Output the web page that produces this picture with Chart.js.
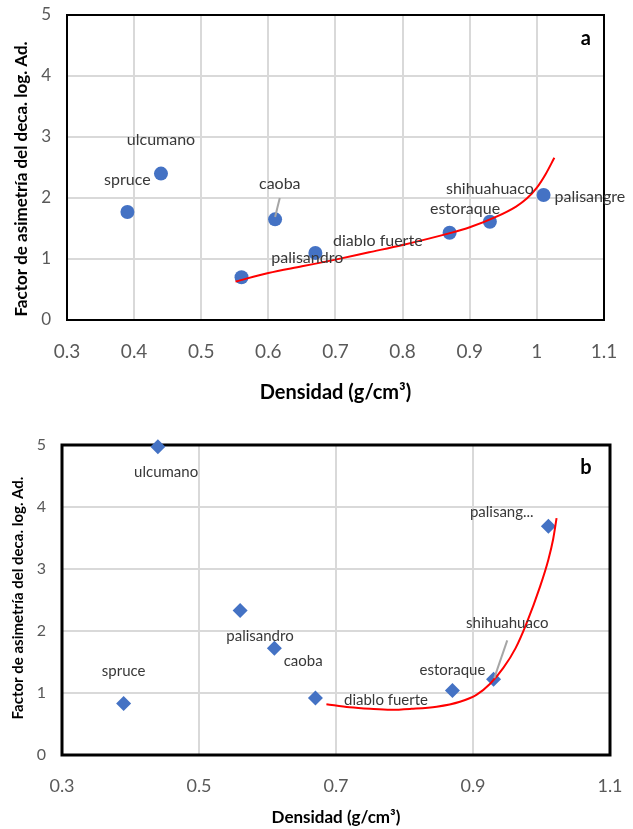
<!DOCTYPE html>
<html>
<head>
<meta charset="utf-8">
<script src="https://cdn.jsdelivr.net/npm/chart.js@4.4.1/dist/chart.umd.min.js"></script>
<style>
  body { margin: 0; background: #fff; }
  .panel { position: absolute; left: 0; width: 633px; }
</style>
</head>
<body>
<div class="panel" style="top:0px"><canvas id="graficaA" width="633" height="410"></canvas></div>
<div class="panel" style="top:410px"><canvas id="graficaB" width="633" height="419"></canvas></div>
<script>
// Datos
const especies = ['spruce', 'ulcumano', 'palisandro', 'caoba', 'diablo fuerte', 'estoraque', 'shihuahuaco', 'palisangre'];
const densidad = [0.39, 0.44, 0.56, 0.61, 0.67, 0.87, 0.93, 1.01];
const factorA = [1.77, 2.40, 0.70, 1.65, 1.10, 1.43, 1.61, 2.05];
const factorB = [0.83, 4.97, 2.33, 1.72, 0.92, 1.04, 1.22, 3.69];

// Linea de tendencia (roja) de cada panel
const curvaAx = [0.551, 0.60, 0.65, 0.70, 0.75, 0.80, 0.869, 0.90, 0.939, 0.969, 0.985, 1.0, 1.013, 1.026];
const curvaAy = [0.63, 0.77, 0.88, 0.99, 1.11, 1.23, 1.42, 1.52, 1.69, 1.86, 1.99, 2.17, 2.39, 2.66];
const curvaBx = [0.686, 0.72, 0.75, 0.78, 0.81, 0.847, 0.881, 0.905, 0.925, 0.944, 0.962, 0.978, 0.998, 1.010, 1.017, 1.022];
const curvaBy = [0.82, 0.77, 0.745, 0.73, 0.745, 0.78, 0.86, 0.97, 1.15, 1.40, 1.72, 2.12, 2.72, 3.15, 3.48, 3.82];

// Ticks
const ticksXA = [0.3, 0.4, 0.5, 0.6, 0.7, 0.8, 0.9, 1.0, 1.1];
const ticksXB = [0.3, 0.5, 0.7, 0.9, 1.1];
const ticksY = [0, 1, 2, 3, 4, 5];

// Posicion de las etiquetas (en unidades de los ejes)
const etiquetasA = [[0.39, 2.29], [0.44, 2.95], [0.658, 1.02], [0.617, 2.23], [0.763, 1.29], [0.893, 1.82], [0.93, 2.15], [1.079, 2.02]];
const etiquetasB = [[0.39, 1.36], [0.452, 4.57], [0.589, 1.92], [0.652, 1.52], [0.773, 0.89], [0.87, 1.37], [0.95, 2.13], [0.942, 3.92]];
const textosB = ['spruce', 'ulcumano', 'palisandro', 'caoba', 'diablo fuerte', 'estoraque', 'shihuahuaco', 'palisang...'];

const tituloY = 'Factor de asimetría del deca. log. Ad.';
const tituloX = 'Densidad (g/cm³)';

// Plugin: marco, etiquetas, lineas guia, letra del panel y titulo del eje Y
const etiquetasPlugin = {
  id: 'etiquetas',
  beforeDatasetsDraw(chart, args, o) {
    const a = chart.chartArea, ctx = chart.ctx;
    ctx.save();
    ctx.strokeStyle = '#000';
    ctx.lineWidth = o.marco;
    ctx.strokeRect(a.left, a.top, a.right - a.left, a.bottom - a.top);
    ctx.restore();
  },
  afterDatasetsDraw(chart, args, o) {
    const ctx = chart.ctx, sx = chart.scales.x, sy = chart.scales.y;
    ctx.save();
    // linea guia
    ctx.strokeStyle = '#a6a6a6';
    ctx.lineWidth = 2;
    ctx.beginPath();
    ctx.moveTo(sx.getPixelForValue(o.guia[0]), sy.getPixelForValue(o.guia[1]));
    ctx.lineTo(sx.getPixelForValue(o.guia[2]), sy.getPixelForValue(o.guia[3]));
    ctx.stroke();
    // etiquetas
    ctx.fillStyle = '#383838';
    ctx.font = o.fuente;
    ctx.textAlign = 'center';
    ctx.textBaseline = 'middle';
    o.posiciones.forEach((p, i) => {
      ctx.fillText(o.textos[i], sx.getPixelForValue(p[0]), sy.getPixelForValue(p[1]));
    });
    // letra del panel
    ctx.fillStyle = '#000';
    ctx.font = 'bold 20px Lato';
    ctx.fillText(o.letra[0], sx.getPixelForValue(o.letra[1]), sy.getPixelForValue(o.letra[2]));
    // titulo eje Y
    ctx.translate(o.tituloY[0], o.tituloY[1]);
    ctx.rotate(-Math.PI / 2);
    ctx.font = o.tituloY[2];
    ctx.fillText(tituloY, 0, 0);
    ctx.restore();
  }
};

function sinMargen(s) {
  s.paddingTop = 0; s.paddingBottom = 0; s.paddingLeft = 0; s.paddingRight = 0;
}

function crearGrafica(id, c) {
  new Chart(document.getElementById(id), {
    type: 'scatter',
    data: {
      datasets: [{
        data: densidad.map((d, i) => ({ x: d, y: c.valores[i] })),
        pointStyle: c.forma,
        radius: c.radio,
        backgroundColor: '#4472C4',
        borderWidth: 0,
        clip: false,
        order: 1
      }, {
        data: c.curvaX.map((d, i) => ({ x: d, y: c.curvaY[i] })),
        showLine: true,
        pointRadius: 0,
        borderColor: '#ff0000',
        borderWidth: 2,
        cubicInterpolationMode: 'monotone',
        order: 0
      }]
    },
    options: {
      responsive: false,
      animation: false,
      layout: { padding: { top: c.arriba, right: c.derecha, left: 0, bottom: 0 } },
      plugins: {
        legend: { display: false },
        tooltip: { enabled: false },
        etiquetas: c.etiquetas
      },
      scales: {
        x: {
          type: 'linear', min: 0.3, max: 1.1,
          afterBuildTicks: s => { s.ticks = c.ticksX.map(v => ({ value: v })); },
          afterFit: s => { s.height = c.altoX; sinMargen(s); },
          ticks: {
            callback: v => String(Number(v.toFixed(1))),
            font: { family: 'Lato', size: c.fuenteX }, color: '#595959', padding: c.padX
          },
          grid: { color: '#d9d9d9', lineWidth: 2, drawTicks: false },
          border: { display: false },
          title: {
            display: true, text: tituloX, color: '#000',
            font: { family: 'Lato', size: c.tituloXsize, weight: 'bold' },
            padding: { top: 0, bottom: c.tituloXpad }
          }
        },
        y: {
          min: 0, max: 5,
          afterBuildTicks: s => { s.ticks = ticksY.map(v => ({ value: v })); },
          afterFit: s => { s.width = c.anchoY; sinMargen(s); },
          ticks: { font: { family: 'Lato', size: c.fuenteY }, color: '#595959', padding: 16 },
          grid: { color: '#d9d9d9', lineWidth: 2, drawTicks: false },
          border: { display: false }
        }
      }
    },
    plugins: [etiquetasPlugin]
  });
}

crearGrafica('graficaA', {
  valores: factorA, forma: 'circle', radio: 7, curvaX: curvaAx, curvaY: curvaAy, ticksX: ticksXA,
  arriba: 15, derecha: 29, altoX: 90, anchoY: 67, fuenteX: 19, fuenteY: 17, padX: 20,
  tituloXsize: 20, tituloXpad: 5,
  etiquetas: {
    marco: 2, fuente: '16px Lato', textos: especies, posiciones: etiquetasA,
    guia: [0.617, 2.0, 0.61, 1.69], letra: ['a', 1.073, 4.61],
    tituloY: [22, 179, 'bold 17px Lato']
  }
});

crearGrafica('graficaB', {
  valores: factorB, forma: 'rectRot', radio: 7.5, curvaX: curvaBx, curvaY: curvaBy, ticksX: ticksXB,
  arriba: 35, derecha: 23, altoX: 74, anchoY: 62, fuenteX: 18, fuenteY: 16, padX: 20,
  tituloXsize: 17, tituloXpad: 1,
  etiquetas: {
    marco: 3, fuente: '15px Lato', textos: textosB, posiciones: etiquetasB,
    guia: [0.95, 1.85, 0.931, 1.24], letra: ['b', 1.065, 4.63],
    tituloY: [18, 188, 'bold 15px Lato']
  }
});
</script>
</body>
</html>
